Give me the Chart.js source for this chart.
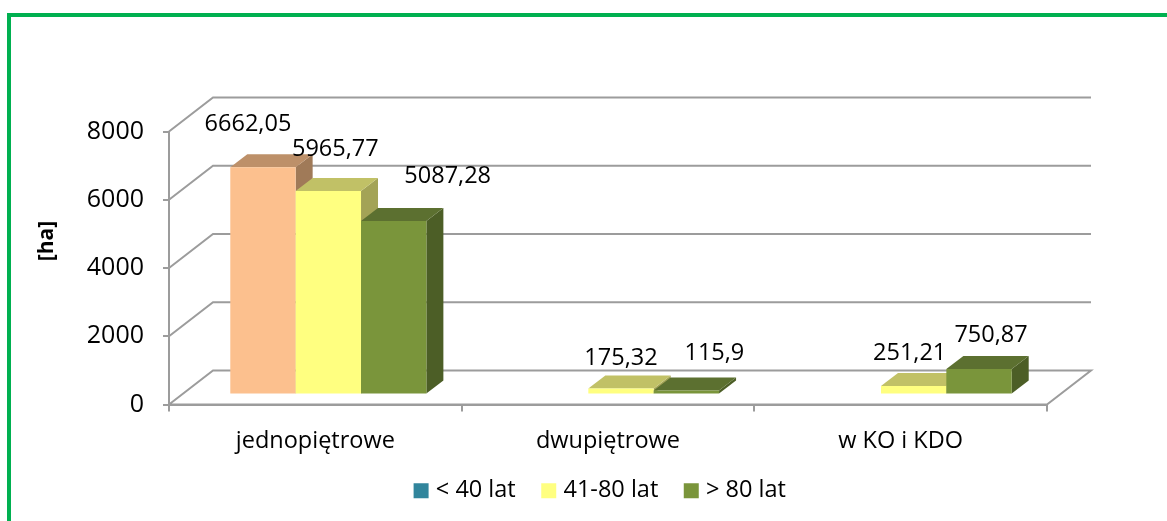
<!DOCTYPE html>
<html><head><meta charset="utf-8">
<style>html,body{margin:0;padding:0;background:#fff}#w{width:1167px;height:521px;position:relative;overflow:hidden}canvas{display:block}
#f{position:absolute;left:7px;top:13px;width:1200px;height:600px;border:4px solid #00b050;box-sizing:border-box;pointer-events:none}body{overflow:hidden}</style>
<script src="https://cdn.jsdelivr.net/npm/chart.js@4"></script></head>
<body><div id="w"><canvas id="c" width="1167" height="521"></canvas><div id="f"></div></div>
<script>
const categories = ['jednopiętrowe', 'dwupiętrowe', 'w KO i KDO'];
const seriesNames = ['< 40 lat', '41-80 lat', '> 80 lat'];
const under40 = [6662.05, null, null];
const from41to80 = [5965.77, 175.32, 251.21];
const over80 = [5087.28, 115.9, 750.87];
const yTicks = [0, 2000, 4000, 6000, 8000];
const under40Label = ['6662,05', null, null];
const from41to80Label = ['5965,77', '175,32', '251,21'];
const over80Label = ['5087,28', '115,9', '750,87'];

const FONT = '"Open Sans", sans-serif';
const TXT = 23.5;
const GRID = '#9c9c9c';
const FLOOR = {dx: 44, dy: -34};      // depth of the chart box
const BAR_SHIFT = {x: 13, y: -10};    // bars stand in the middle of the floor
const BAR_DEPTH = {dx: 17, dy: -13};
const faces = [
  {front: '#fcc08e', top: '#bd9069', side: '#a07a58', legend: '#31859c'},
  {front: '#ffff80', top: '#c1c166', side: '#a3a356', legend: '#ffff80'},
  {front: '#7a953b', top: '#5c7030', side: '#4c5e26', legend: '#7a953b'}
];
// hand-placed label offsets from the top-centre of the bar's front face
const labelNudges = [
  [[-15, -43], null, null],
  [[7, -42], [0, -30], [-4, -33]],
  [[54, -45], [28, -37], [12, -34]]
];
const labelTexts = [under40Label, from41to80Label, over80Label];

const box3d = {
  id: 'box3d',
  afterLayout(chart) {
    const lg = chart.legend, shift = 602 - (lg.left + lg.right) / 2;
    lg.left += shift; lg.right += shift;
    const h = lg.bottom - lg.top; lg.top = 488.5 - 30 - 9.5; lg.bottom = lg.top + h;
  },
  beforeDatasetsDraw(chart) {
    const {ctx, scales: {x, y}} = chart;
    ctx.save();
    ctx.strokeStyle = GRID; ctx.lineWidth = 2; ctx.lineJoin = 'miter';
    yTicks.forEach(v => {
      const py = y.getPixelForValue(v);
      ctx.beginPath();
      ctx.moveTo(x.left, py);
      ctx.lineTo(x.left + FLOOR.dx, py + FLOOR.dy);
      ctx.lineTo(x.right + FLOOR.dx, py + FLOOR.dy);
      if (v === 0) { ctx.lineTo(x.right, py); ctx.lineTo(x.left, py); }
      ctx.stroke();
    });
    ctx.beginPath();
    ctx.moveTo(x.left, y.getPixelForValue(0)); ctx.lineTo(x.left, y.getPixelForValue(8000));
    ctx.stroke();
    ctx.restore();
  },
  // bars overlap left to right, so the faces are painted here in series order
  beforeDatasetDraw() { return false; },
  afterDatasetsDraw(chart) {
    const ctx = chart.ctx, d = BAR_DEPTH;
    ctx.save();
    ctx.translate(BAR_SHIFT.x, BAR_SHIFT.y);
    chart.data.datasets.forEach((ds, s) => {
      const f = faces[s];
      chart.getDatasetMeta(s).data.forEach((b, i) => {
        if (ds.data[i] == null) return;
        const l = b.x - b.width / 2, r = b.x + b.width / 2, t = b.y, bt = b.base;
        ctx.fillStyle = f.side;
        ctx.beginPath(); ctx.moveTo(r, t); ctx.lineTo(r + d.dx, t + d.dy); ctx.lineTo(r + d.dx, bt + d.dy); ctx.lineTo(r, bt); ctx.closePath(); ctx.fill();
        ctx.fillStyle = f.top;
        ctx.beginPath(); ctx.moveTo(l, t); ctx.lineTo(l + d.dx, t + d.dy); ctx.lineTo(r + d.dx, t + d.dy); ctx.lineTo(r, t); ctx.closePath(); ctx.fill();
        b.draw(ctx);
      });
    });
    ctx.restore();
  },
  afterDraw(chart) {
    const {ctx} = chart;
    ctx.save();
    ctx.fillStyle = '#000'; ctx.font = TXT + 'px ' + FONT; ctx.textAlign = 'center'; ctx.textBaseline = 'middle';
    chart.data.datasets.forEach((ds, s) => {
      chart.getDatasetMeta(s).data.forEach((b, i) => {
        const n = labelNudges[s][i];
        if (!n) return;
        ctx.fillText(labelTexts[s][i], b.x + BAR_SHIFT.x + n[0], b.y + BAR_SHIFT.y + n[1]);
      });
    });
    ctx.font = 'bold 21px ' + FONT;
    ctx.translate(47, 241); ctx.rotate(-Math.PI / 2);
    ctx.fillText('[ha]', 0, 0);
    ctx.restore();
  }
};

const series = [under40, from41to80, over80];
new Chart(document.getElementById('c'), {
  type: 'bar',
  data: {
    labels: categories,
    datasets: series.map((data, s) => ({
      label: seriesNames[s], data,
      backgroundColor: faces[s].front, borderWidth: 0,
      categoryPercentage: 0.67, barPercentage: 1, clip: false
    }))
  },
  plugins: [box3d],
  options: {
    responsive: false, animation: false,
    layout: {padding: {left: 0, right: 120, top: 131.5, bottom: 0}},
    plugins: {
      tooltip: {enabled: false},
      legend: {
        position: 'bottom', fullSize: false,
        labels: {
          usePointStyle: true, boxWidth: 6, boxHeight: 15, padding: 30, color: '#000',
          font: {family: FONT, size: TXT},
          generateLabels: () => seriesNames.map((text, i) => ({text, pointStyle: 'rect', fillStyle: faces[i].legend, strokeStyle: faces[i].legend, lineWidth: 0, datasetIndex: i, hidden: false}))
        }
      }
    },
    scales: {
      x: {
        afterFit: s => { s.height = 53; },
        grid: {drawOnChartArea: false, drawTicks: true, tickLength: 7, color: GRID, lineWidth: 2, offset: true},
        border: {display: true, color: GRID, width: 2},
        ticks: {color: '#000', font: {family: FONT, size: TXT}, padding: 16, maxRotation: 0}
      },
      y: {
        min: 0, max: 8000,
        afterFit: s => { s.width = 169; },
        afterBuildTicks: s => { s.ticks = yTicks.map(value => ({value})); },
        grid: {drawOnChartArea: false, drawTicks: true, tickLength: 6, color: GRID, lineWidth: 2},
        border: {display: true, color: GRID, width: 2},
        ticks: {color: '#000', font: {family: FONT, size: 25}, padding: 19, callback: v => String(v)}
      }
    }
  }
});
</script></body></html>
